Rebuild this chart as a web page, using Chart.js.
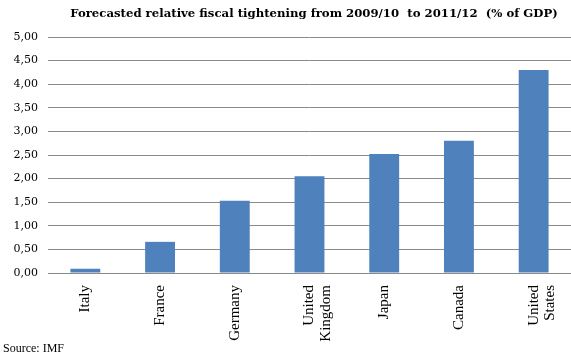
<!DOCTYPE html>
<html>
<head>
<meta charset="utf-8">
<script src="https://cdn.jsdelivr.net/npm/chart.js@4"></script>
<style>
  html, body { margin: 0; padding: 0; background: #fff; }
  #wrap { width: 571px; height: 363px; position: relative; }
</style>
</head>
<body>
<div id="wrap"><canvas id="fiscalChart"></canvas></div>
<script>
// Data
const countries = ['Italy', 'France', 'Germany', ['United', 'Kingdom'], 'Japan', 'Canada', ['United', 'States']];
const tightening = [0.09, 0.66, 1.53, 2.05, 2.52, 2.80, 4.30];
const yTicks = [0, 0.5, 1, 1.5, 2, 2.5, 3, 3.5, 4, 4.5, 5];

const titleText = 'Forecasted relative fiscal tightening from 2009/10  to 2011/12  (% of GDP)';
const sourceText = 'Source: IMF';

// Title and source note drawn by hand so they sit where the original has them
const textPlugin = {
    id: 'textPlugin',
    afterDraw(chart) {
        const ctx = chart.ctx;
        ctx.save();
        ctx.fillStyle = '#000';
        ctx.font = 'bold 11.7px "DejaVu Serif", Georgia, serif';
        ctx.textAlign = 'center';
        ctx.textBaseline = 'middle';
        ctx.fillText(titleText, 314, 14);
        ctx.font = '12px "Liberation Serif", "Times New Roman", serif';
        ctx.textAlign = 'left';
        ctx.fillText(sourceText, 3, 349);
        ctx.restore();
    }
};

document.addEventListener('DOMContentLoaded', function() {
    const ctx = document.getElementById('fiscalChart').getContext('2d');
    new Chart(ctx, {
        type: 'bar',
        data: {
            labels: countries,
            datasets: [{
                data: tightening,
                backgroundColor: '#4F81BD',
                borderWidth: 0,
                categoryPercentage: 1,
                barPercentage: 0.40
            }]
        },
        options: {
            responsive: true,
            maintainAspectRatio: false,
            animation: false,
            layout: {
                padding: { top: 37, right: 0, bottom: 0, left: 0 }
            },
            plugins: {
                legend: { display: false },
                tooltip: { enabled: false }
            },
            scales: {
                y: {
                    min: 0,
                    max: 5,
                    afterBuildTicks: axis => {
                        axis.ticks = yTicks.map(v => ({ value: v }));
                    },
                    afterFit: axis => { axis.width = 48; },
                    ticks: {
                        color: '#000',
                        padding: 10,
                        font: { family: '"DejaVu Serif", Georgia, serif', size: 11 },
                        callback: v => v.toFixed(2).replace('.', ',')
                    },
                    grid: {
                        color: '#8a8a8a',
                        lineWidth: 1,
                        drawTicks: false
                    },
                    border: { display: false }
                },
                x: {
                    afterFit: axis => {
                        axis.height = 90;
                        axis.paddingLeft = 0;
                        axis.paddingRight = 0;
                    },
                    ticks: {
                        color: '#000',
                        minRotation: 90,
                        maxRotation: 90,
                        padding: 12,
                        font: { family: '"Liberation Serif", "Times New Roman", serif', size: 15, lineHeight: 1.1 }
                    },
                    grid: { display: false, drawTicks: false },
                    border: { display: true, color: '#8a8a8a', width: 1 }
                }
            }
        },
        plugins: [textPlugin]
    });
});
</script>
</body>
</html>
